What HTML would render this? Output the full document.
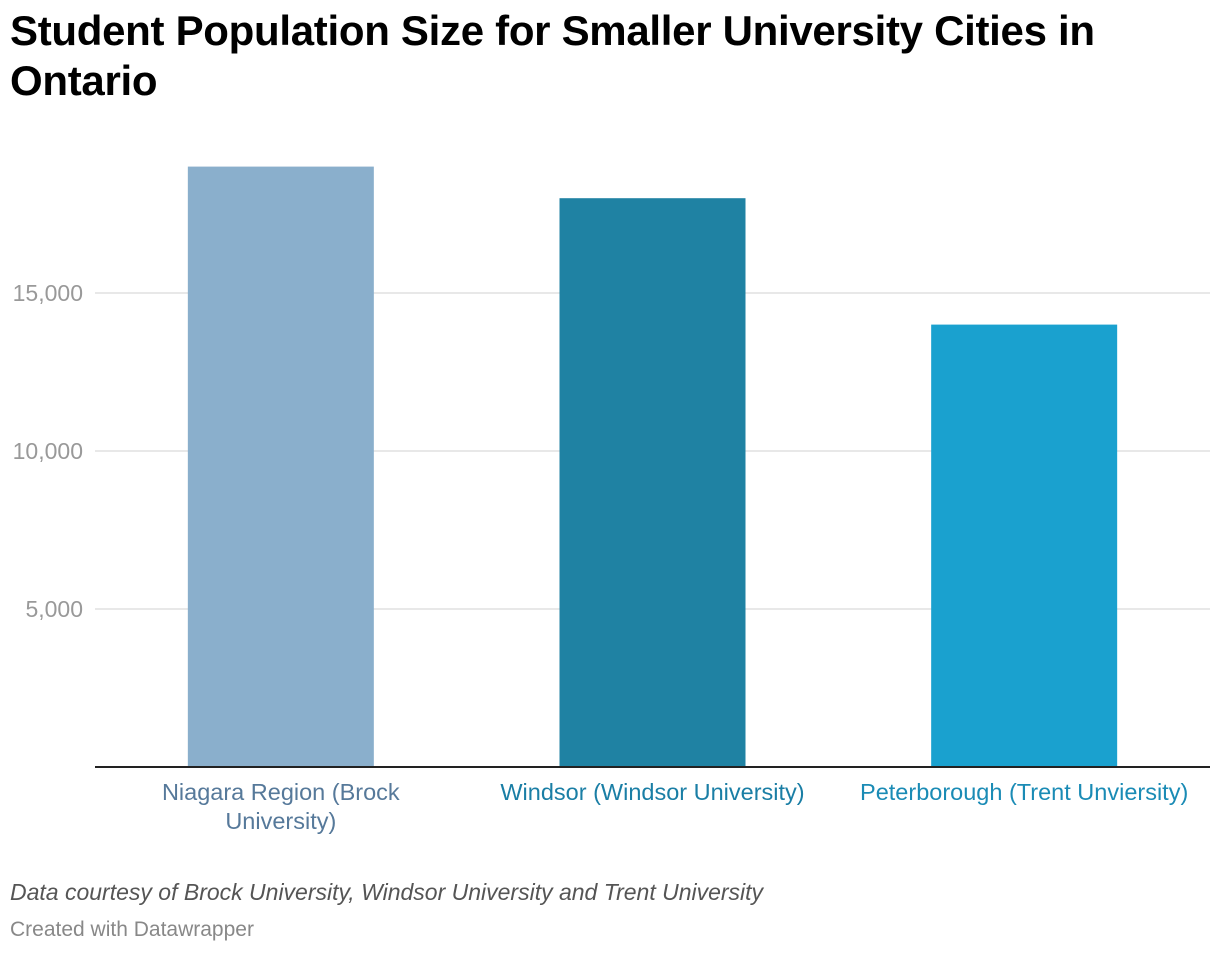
<!DOCTYPE html>
<html><head><meta charset="utf-8">
<style>
html,body{margin:0;padding:0;background:#fff;}
body{width:1220px;height:954px;position:relative;font-family:"Liberation Sans",sans-serif;overflow:hidden;}
.title{position:absolute;left:10px;top:6px;width:1120px;font-size:42px;font-weight:bold;line-height:50px;color:#000;letter-spacing:-0.3px;}
.note{position:absolute;left:10px;top:879px;font-size:23px;font-style:italic;color:#555;}
.credit{position:absolute;left:10px;top:918px;font-size:21px;color:#888;}
</style></head><body>
<div class="title">Student Population Size for Smaller University Cities in Ontario</div>
<svg id="chart" width="1220" height="954" style="position:absolute;left:0;top:0"></svg>
<div class="note">Data courtesy of Brock University, Windsor University and Trent University</div>
<div class="credit">Created with Datawrapper</div>
<script>
const categories = [["Niagara Region (Brock","University)"],["Windsor (Windsor University)"],["Peterborough (Trent Unviersity)"]];
const values = [19000, 18000, 14000];
const ticks = [5000, 10000, 15000];
const tickLabels = ["5,000","10,000","15,000"];
const colors = ["#8aafcc","#1f82a3","#1aa1cf"];
const labelColors = ["#56799a","#1a7ea5","#1a8bb5"];

const svg = document.getElementById('chart');
const NS = "http://www.w3.org/2000/svg";
const x0 = 95, x1 = 1210, yBase = 767, pxPer = 158/5000;
const y = v => yBase - v*pxPer;
const band = (x1 - x0)/categories.length;
const barW = 186;
const cx = i => x0 + band*(i+0.5);
function mk(tag, attrs){const e=document.createElementNS(NS,tag);for(const k in attrs)e.setAttribute(k,attrs[k]);svg.appendChild(e);return e;}

ticks.forEach((t,i)=>{
  const g = mk('line',{x1:x0,x2:x1,y1:y(t),y2:y(t),stroke:'#e0e0e0','stroke-width':1.5});
  
  
  const tx = mk('text',{x:83,y:y(t)+8,'text-anchor':'end','font-size':23,fill:'#999','font-family':'Liberation Sans, sans-serif'});
  tx.textContent = tickLabels[i];
  
  
});
values.forEach((v,i)=>{
  const r = mk('rect',{x:cx(i)-barW/2,y:y(v),width:barW,height:yBase-y(v),fill:colors[i]});
  
  
  categories[i].forEach((line,j)=>{
    const tx = mk('text',{x:cx(i),y:800+j*29,'text-anchor':'middle','font-size':23.5,fill:labelColors[i],'font-family':'Liberation Sans, sans-serif'});
    tx.textContent = line;
    
    
  });
});
const base = mk('line',{x1:x0,x2:x1,y1:yBase,y2:yBase,stroke:'#222','stroke-width':2});


</script>
</body></html>
